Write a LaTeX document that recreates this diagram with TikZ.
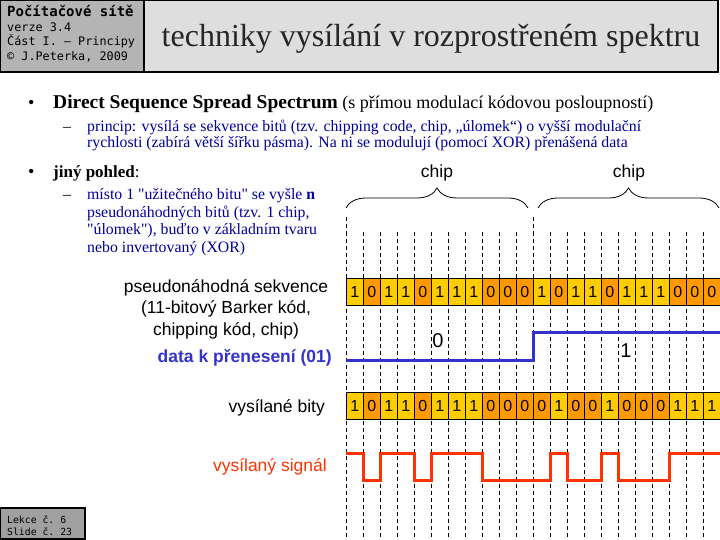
\documentclass[tikz,border=0pt]{standalone}
\usepackage{fontspec}
\setmainfont{Liberation Serif}
\setsansfont{Liberation Sans}
\setmonofont{DejaVu Sans Mono}
\usepackage{tikz}
\usetikzlibrary{decorations.pathreplacing}

\definecolor{bit1}{HTML}{FFCC00}
\definecolor{bit0}{HTML}{FF9900}
\definecolor{datablue}{HTML}{3333CC}
\definecolor{signalred}{HTML}{FF3300}
\definecolor{textnavy}{HTML}{000099}
\definecolor{headgray}{HTML}{B4B4B4}
\definecolor{titlegray}{HTML}{DEDEDE}
\definecolor{footgray}{HTML}{A0A0A0}

\begin{document}
\begin{tikzpicture}[
        x = 1pt, y = -1pt,
        every node/.style = {inner sep = 0pt},
        bitcell/.style = {draw = black, line width = 0.8pt, minimum width = 17pt, minimum height = 27pt,
                          anchor = north west, font = \sffamily\fontsize{16}{16}\selectfont},
        gridline/.style = {line width = 0.8pt, dash pattern = on 4pt off 3pt},
        chipbrace/.style = {line width = 0.8pt, decorate, decoration = {brace, amplitude = 20pt}},
        sanslabel/.style = {font = \sffamily\fontsize{17.5}{21.5}\selectfont},
        headtext/.style = {anchor = base west, font = \ttfamily\fontsize{11.8}{12}\selectfont},
        bullettext/.style = {anchor = base west, font = \fontsize{18}{20}\selectfont},
        navytext/.style = {anchor = base west, text = textnavy, font = \fontsize{15.8}{16}\selectfont}
    ]
      \fill[white] (0,0) rectangle (720,540);
      \useasboundingbox (0,0) rectangle (720,540);

      % header
      \draw[fill = headgray, line width = 1.2pt] (0,0) rectangle (144,72);
      \draw[fill = titlegray, line width = 1.2pt] (144,0) rectangle (718,72);
      \node[headtext, font = \ttfamily\bfseries\fontsize{14}{14}\selectfont] (course) at (7,17) {Počítačové sítě};
      \node[headtext] (version) at (7,32) {verze 3.4};
      \node[headtext] (part) at (7,46) {Část I. – Principy};
      \node[headtext] (author) at (7,61) {© J.Peterka, 2009};
      \node[anchor = base, text = black!85, font = \fontsize{32}{32}\selectfont] (title) at (431,47)
          {techniky vysílání v rozprostřeném spektru};

      % text
      \node[bullettext] (dot1) at (28,109) {\textbullet};
      \node[bullettext] (dsss) at (53,109) {{\fontsize{19.5}{20}\selectfont\textbf{Direct Sequence Spread Spectrum}} (s přímou modulací kódovou posloupností)};
      \node[navytext, text = black] (dash1) at (63,132) {–};
      \node[navytext] (princip1) at (87,132) {princip: vysílá se sekvence bitů (tzv. chipping code, chip, „úlomek“) o vyšší modulační};
      \node[navytext] (princip2) at (87,148) {rychlosti (zabírá větší šířku pásma). Na ni se modulují (pomocí XOR) přenášená data};
      \node[bullettext] (dot2) at (28,178) {\textbullet};
      \node[bullettext, font = \fontsize{17}{20}\selectfont] (view) at (53,178) {\textbf{jiný pohled}:};
      \node[navytext, text = black] (dash2) at (63,200) {–};
      \node[navytext] (view1) at (87,200) {místo 1 \textquotedbl užitečného bitu\textquotedbl{} se vyšle \textbf{n}};
      \node[navytext] (view2) at (87,217.5) {pseudonáhodných bitů (tzv. 1 chip,};
      \node[navytext] (view3) at (87,235) {\textquotedbl úlomek\textquotedbl), buďto v základním tvaru};
      \node[navytext] (view4) at (87,252.5) {nebo invertovaný (XOR)};

      % grid
      \foreach \k in {0,...,21}
          \draw[gridline] (346+17*\k,232) -- (346+17*\k,540);
      \foreach \k in {0,11}
          \draw[gridline] (346+17*\k,217) -- (346+17*\k,232);

      % chips
      \draw[chipbrace] (346,208) -- (528,208);
      \draw[chipbrace] (538,208) -- (719,208);
      \node[sanslabel] (chipA) at (437,173) {chip};
      \node[sanslabel] (chipB) at (629,173) {chip};

      % bits
      \foreach \b [count = \i from 0] in {1,0,1,1,0,1,1,1,0,0,0,1,0,1,1,0,1,1,1,0,0,0}
          \node[bitcell, fill = bit\b] (seq\i) at (346+17*\i,278) {\b};
      \foreach \b [count = \i from 0] in {1,0,1,1,0,1,1,1,0,0,0,0,1,0,0,1,0,0,0,1,1,1}
          \node[bitcell, fill = bit\b] (sent\i) at (346+17*\i,392) {\b};

      % data
      \draw[datablue, line width = 3pt] (346,360) -| (533,332) -- (720,332);
      \node[font = \sffamily\fontsize{20}{20}\selectfont] (dataA) at (438,341) {0};
      \node[font = \sffamily\fontsize{20}{20}\selectfont] (dataB) at (626,351) {1};

      % signal
      \draw[signalred, line width = 3pt] (346,453) -- (363,453) -- (363,480) -- (380,480) -- (380,453)
          -- (414,453) -- (414,480) -- (431,480) -- (431,453) -- (482,453) -- (482,480) -- (550,480)
          -- (550,453) -- (567,453) -- (567,480) -- (601,480) -- (601,453) -- (618,453) -- (618,480)
          -- (669,480) -- (669,453) -- (720,453);

      % labels
      \node[sanslabel, align = center] (seqlabel) at (226,309) {pseudonáhodná sekvence\\(11-bitový Barker kód,\\chipping kód, chip)};
      \node[sanslabel, anchor = east, text = datablue, font = \sffamily\bfseries\fontsize{17.5}{21.5}\selectfont] (datalabel) at (332,358) {data k přenesení (01)};
      \node[sanslabel, anchor = east] (sentlabel) at (325,408) {vysílané bity};
      \node[sanslabel, anchor = east, text = signalred] (signallabel) at (327,467) {vysílaný signál};

      % footer
      \draw[fill = footgray, line width = 1.2pt] (0,508) rectangle (85,539);
      \node[headtext, font = \ttfamily\fontsize{9.8}{10}\selectfont] (lesson) at (7,523) {Lekce č. 6};
      \node[headtext, font = \ttfamily\fontsize{9.8}{10}\selectfont] (slide) at (7,535) {Slide č. 23};
    \end{tikzpicture}
\end{document}
